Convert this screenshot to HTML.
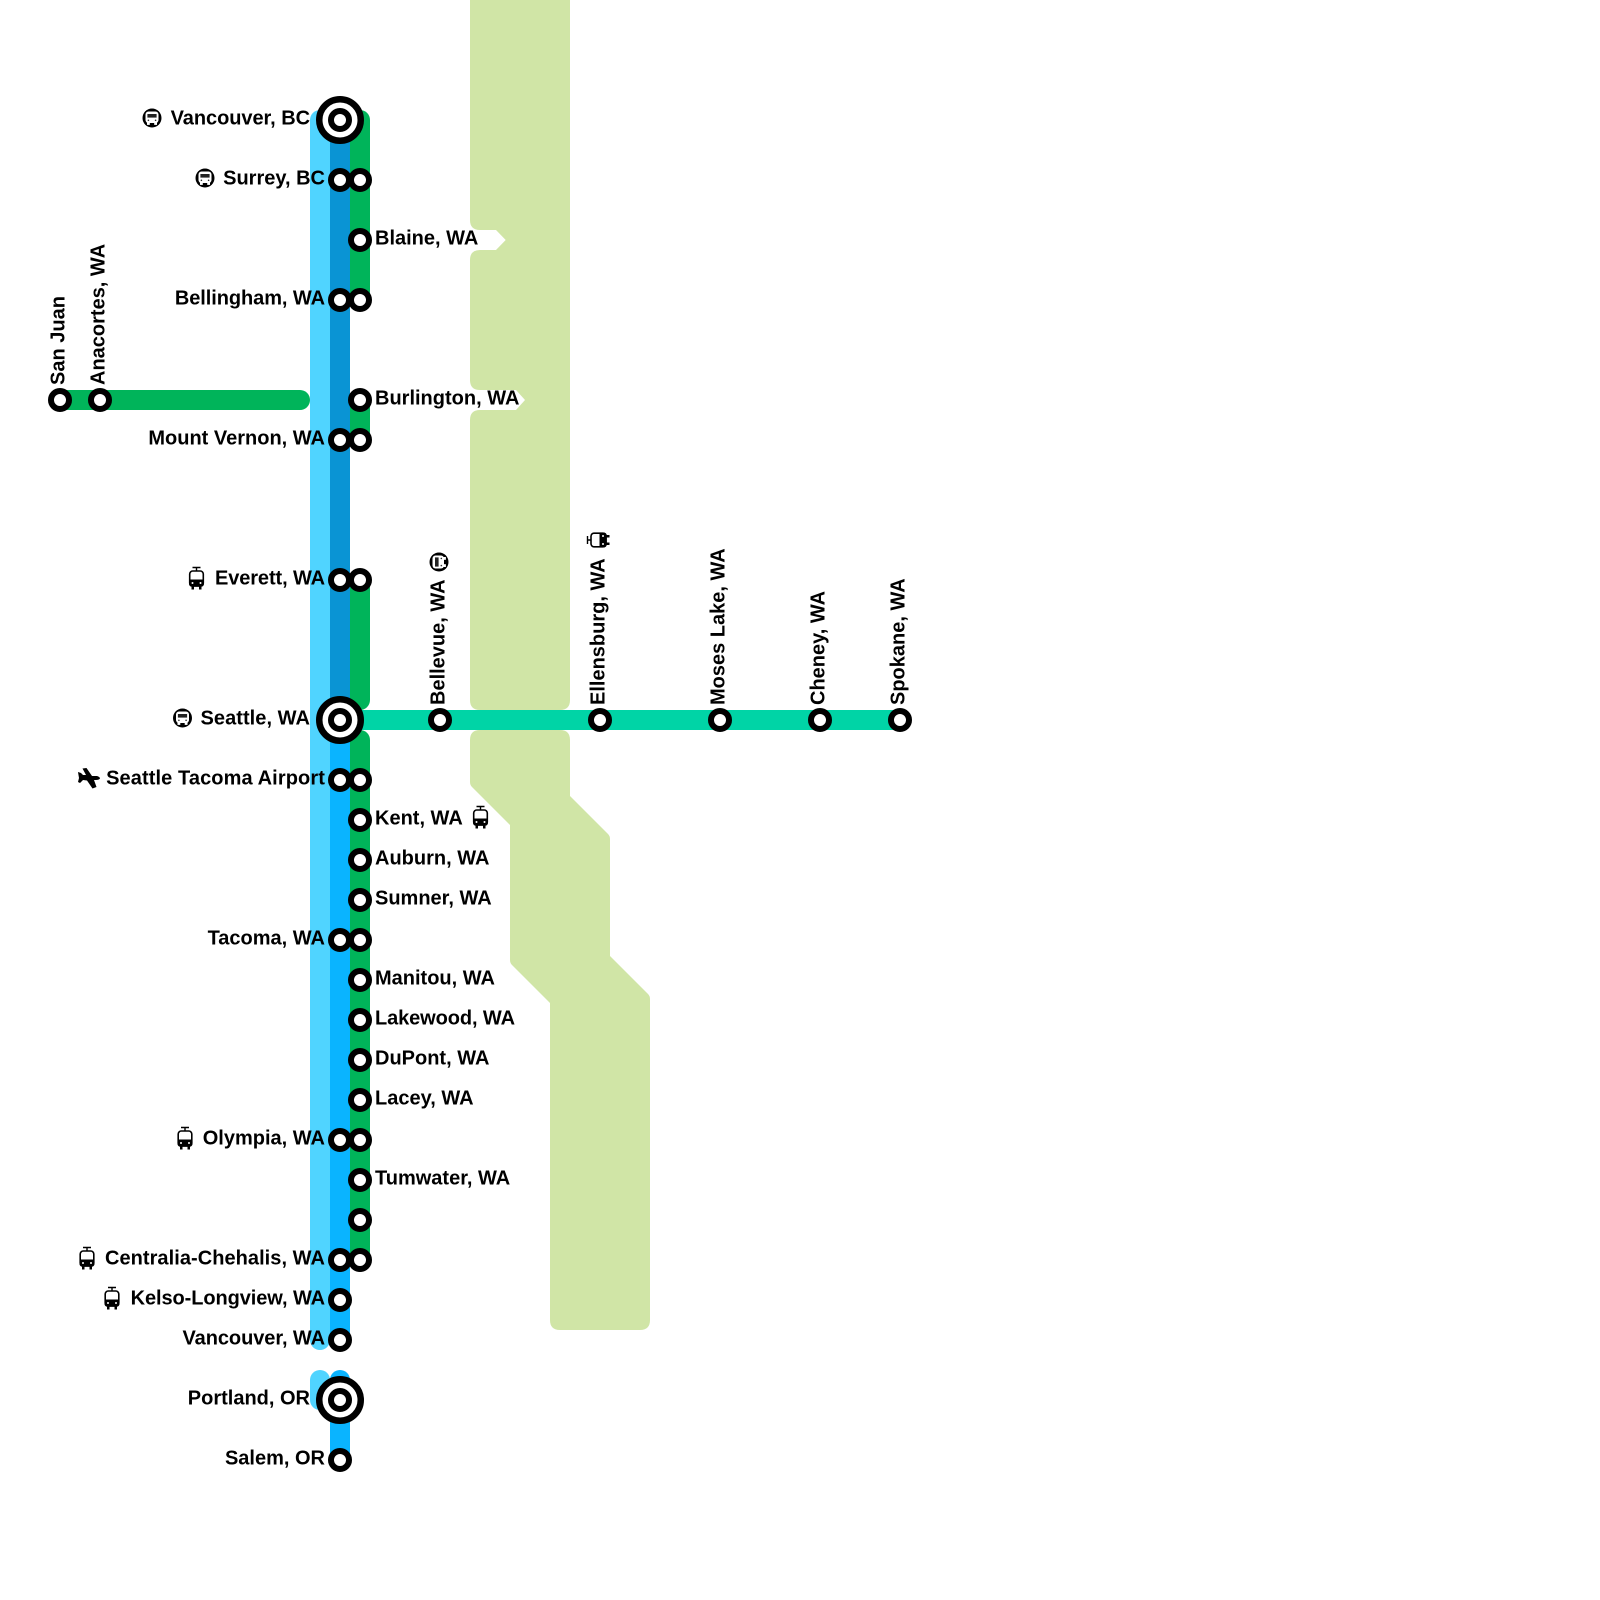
<!DOCTYPE html>
<html>
<head>
<meta charset="utf-8">
<style>
html,body{margin:0;padding:0;background:#fff}
svg{display:block}
text{font-family:"Liberation Sans",sans-serif;font-weight:700;font-size:20px;fill:#000}
.r{text-anchor:end}
</style>
</head>
<body>
<svg width="1600" height="1600" viewBox="0 0 1600 1600" xmlns="http://www.w3.org/2000/svg">
<defs>
<g id="bus">
  <circle r="9.5" fill="#000"/>
  <rect x="-6.5" y="-6.5" width="13" height="11.5" rx="3" fill="#fff"/>
  <rect x="-4.6" y="-4" width="9.2" height="3.6" fill="#222"/>
  <rect x="-5" y="4.5" width="2.8" height="2.4" fill="#fff"/>
  <rect x="2.2" y="4.5" width="2.8" height="2.4" fill="#fff"/>
  <circle cx="-3.6" cy="2.3" r="0.8" fill="#333"/>
  <circle cx="3.6" cy="2.3" r="0.8" fill="#333"/>
</g>
<g id="tram">
  <path d="M-4,-10.5H4M0,-10.5V-7" stroke="#000" stroke-width="1.4" fill="none"/>
  <rect x="-6.8" y="-7" width="13.6" height="15" rx="3" fill="#fff" stroke="#000" stroke-width="1.6"/>
  <path d="M-7.5,1.5H7.5V5.5Q7.5,8.8 4,8.8H-4Q-7.5,8.8 -7.5,5.5Z" fill="#000"/>
  <rect x="-5" y="8" width="2.5" height="3.5" fill="#000"/>
  <rect x="2.5" y="8" width="2.5" height="3.5" fill="#000"/>
  <circle cx="-4" cy="5" r="1" fill="#fff"/>
  <circle cx="4" cy="5" r="1" fill="#fff"/>
</g>
<g id="st"><circle r="9" fill="#fff" stroke="#000" stroke-width="6"/></g>
<g id="big">
  <circle r="20.75" fill="#fff" stroke="#000" stroke-width="6.5"/>
  <circle r="9" fill="#fff" stroke="#000" stroke-width="6"/>
</g>
</defs>

<!-- river -->
<path fill="#d0e5a6" d="M470,0H570V700Q570,710 560,710H480Q470,710 470,700V420Q470,410 480,410H516L525,400L516,390H480Q470,390 470,380V260Q470,250 480,250H496L505.7,240L496,230H480Q470,230 470,220Z"/>
<path fill="#d0e5a6" d="M480,730H560Q570,730 570,740V796L608,834Q610,836 610,839V956L648,994Q650,996 650,999V1320Q650,1330 640,1330H560Q550,1330 550,1320V1003L512,965Q510,963 510,960V825L472,787Q470,785 470,782V740Q470,730 480,730Z"/>

<!-- lines -->
<g fill="none" stroke-width="20" stroke-linecap="round">
  <path d="M320,120V1340" stroke="#50d4ff"/>
  <path d="M320,1380V1400" stroke="#50d4ff"/>
  <path d="M340,1340V720" stroke="#0ab4ff"/>
  <path d="M340,1380V1460" stroke="#0ab4ff"/>
  <path d="M340,120V720" stroke="#0a94d4" stroke-linecap="butt"/>
  <path d="M360,120V300" stroke="#00b45a"/>
  <path d="M360,400V440" stroke="#00b45a"/>
  <path d="M360,580V700" stroke="#00b45a"/>
  <path d="M360,740V1260" stroke="#00b45a"/>
  <path d="M60,400H300" stroke="#00b45a"/>
  <path d="M360,720H900" stroke="#00d4a6"/>
</g>

<!-- stations -->
<use href="#big" x="340" y="120"/>
<use href="#big" x="340" y="720"/>
<use href="#big" x="340" y="1400"/>
<use href="#st" x="340" y="180"/><use href="#st" x="360" y="180"/>
<use href="#st" x="360" y="240"/>
<use href="#st" x="340" y="300"/><use href="#st" x="360" y="300"/>
<use href="#st" x="360" y="400"/>
<use href="#st" x="340" y="440"/><use href="#st" x="360" y="440"/>
<use href="#st" x="340" y="580"/><use href="#st" x="360" y="580"/>
<use href="#st" x="340" y="780"/><use href="#st" x="360" y="780"/>
<use href="#st" x="360" y="820"/>
<use href="#st" x="360" y="860"/>
<use href="#st" x="360" y="900"/>
<use href="#st" x="340" y="940"/><use href="#st" x="360" y="940"/>
<use href="#st" x="360" y="980"/>
<use href="#st" x="360" y="1020"/>
<use href="#st" x="360" y="1060"/>
<use href="#st" x="360" y="1100"/>
<use href="#st" x="340" y="1140"/><use href="#st" x="360" y="1140"/>
<use href="#st" x="360" y="1180"/>
<use href="#st" x="360" y="1220"/>
<use href="#st" x="340" y="1260"/><use href="#st" x="360" y="1260"/>
<use href="#st" x="340" y="1300"/>
<use href="#st" x="340" y="1340"/>
<use href="#st" x="340" y="1460"/>
<use href="#st" x="60" y="400"/>
<use href="#st" x="100" y="400"/>
<use href="#st" x="440" y="720"/>
<use href="#st" x="600" y="720"/>
<use href="#st" x="720" y="720"/>
<use href="#st" x="820" y="720"/>
<use href="#st" x="900" y="720"/>

<!-- left labels -->
<text class="r" x="310" y="124.6" letter-spacing="-0.05">Vancouver, BC</text>
<text class="r" x="325" y="184.6">Surrey, BC</text>
<text class="r" x="325" y="304.6" letter-spacing="-0.07">Bellingham, WA</text>
<text class="r" x="325" y="444.6">Mount Vernon, WA</text>
<text class="r" x="325" y="584.6" letter-spacing="-0.1">Everett, WA</text>
<text class="r" x="310" y="724.6" letter-spacing="0.05">Seattle, WA</text>
<text class="r" x="325" y="784.6" letter-spacing="0.1">Seattle Tacoma Airport</text>
<text class="r" x="325" y="944.6">Tacoma, WA</text>
<text class="r" x="325" y="1144.6">Olympia, WA</text>
<text class="r" x="325" y="1264.6" letter-spacing="0.05">Centralia-Chehalis, WA</text>
<text class="r" x="325" y="1304.6" letter-spacing="-0.09">Kelso-Longview, WA</text>
<text class="r" x="325" y="1344.6" letter-spacing="-0.07">Vancouver, WA</text>
<text class="r" x="310" y="1404.6">Portland, OR</text>
<text class="r" x="325" y="1464.6">Salem, OR</text>

<!-- right labels -->
<text x="375" y="244.6">Blaine, WA</text>
<text x="375" y="404.6">Burlington, WA</text>
<text x="375" y="824.6">Kent, WA</text>
<text x="375" y="864.6">Auburn, WA</text>
<text x="375" y="904.6">Sumner, WA</text>
<text x="375" y="984.6">Manitou, WA</text>
<text x="375" y="1024.6" letter-spacing="-0.1">Lakewood, WA</text>
<text x="375" y="1064.6">DuPont, WA</text>
<text x="375" y="1104.6">Lacey, WA</text>
<text x="375" y="1184.6">Tumwater, WA</text>

<!-- vertical labels -->
<text transform="translate(64.6 385) rotate(-90)">San Juan</text>
<text transform="translate(104.6 385) rotate(-90)">Anacortes, WA</text>
<text transform="translate(444.6 705) rotate(-90)">Bellevue, WA</text>
<text transform="translate(604.6 705) rotate(-90)">Ellensburg, WA</text>
<text transform="translate(724.6 705) rotate(-90)">Moses Lake, WA</text>
<text transform="translate(824.6 705) rotate(-90)">Cheney, WA</text>
<text transform="translate(904.6 705) rotate(-90)">Spokane, WA</text>

<!-- icons -->
<use href="#bus" x="152" y="118"/>
<use href="#bus" x="205" y="178"/>
<use href="#bus" x="182.5" y="718"/>
<use href="#bus" transform="translate(439 562) rotate(-90)"/>
<use href="#tram" x="196.5" y="578"/>
<use href="#tram" x="480.5" y="817"/>
<use href="#tram" x="185" y="1138"/>
<use href="#tram" x="87" y="1258"/>
<use href="#tram" x="112" y="1298"/>
<use href="#tram" transform="translate(598 540) rotate(-90)"/>
<path fill="#000" d="M78,772L81,773L83,775L86,775L82.5,768.5L86.5,768L92,776L97,776Q100,777 100,778.5Q99,780 96,780L94,780L96.5,787L92.5,788.5L87,780.5L83,780L80,783L78,782L79,778Z"/>
</svg>
</body>
</html>
